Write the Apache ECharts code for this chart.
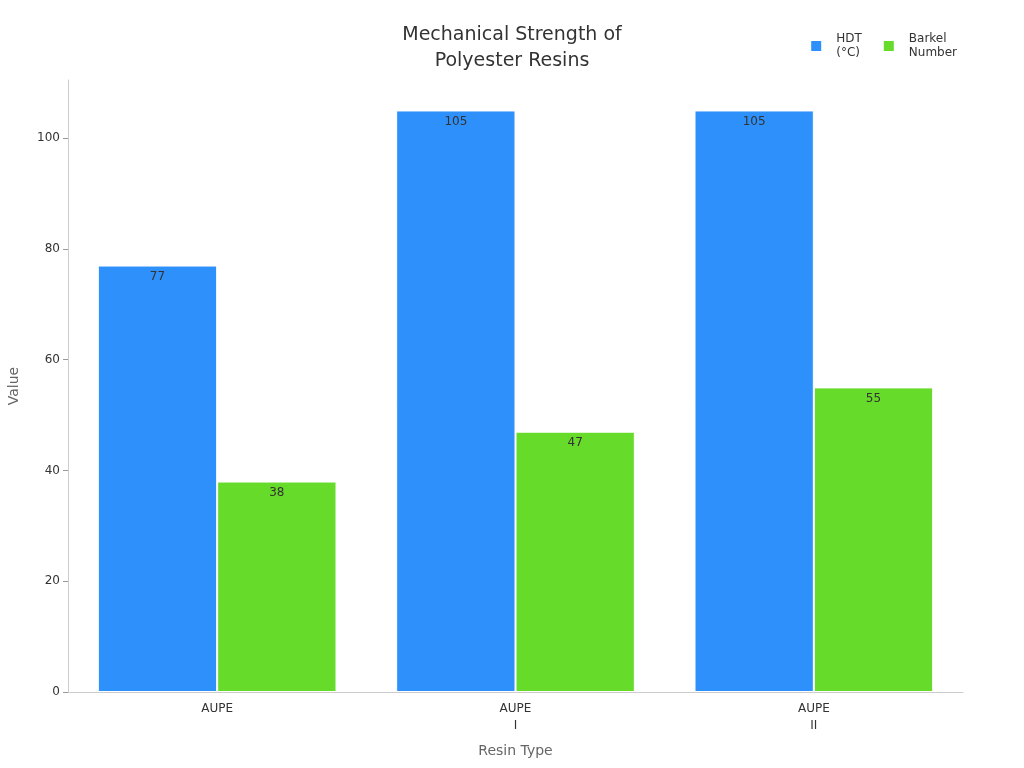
<!DOCTYPE html>
<html><head><meta charset="utf-8">
<script src="https://cdn.jsdelivr.net/npm/echarts@6/dist/echarts.min.js"></script>
<style>html,body{margin:0;padding:0;background:#fff}#c{width:1024px;height:768px}</style>
</head><body><div id="c"></div>
<script>
const categories = ["AUPE", "AUPE\nI", "AUPE\nII"];
const hdt = [77, 105, 105];
const barkel = [38, 47, 55];
const seriesNames = ["HDT\n(°C)", "Barkel\nNumber"];
const yTicks = {min: 0, max: 110.5, interval: 20};

const chart = echarts.init(document.getElementById('c'));
const labelCfg = {show: true, position: 'insideTop', color: '#333', fontSize: 12, distance: 5, fontFamily: 'DejaVu Sans'};
chart.setOption({
  animation: false,
  textStyle: {fontFamily: 'DejaVu Sans'},
  title: {
    text: "Mechanical Strength of\nPolyester Resins",
    left: 'center', top: 17,
    textStyle: {fontSize: 19, fontWeight: 'normal', color: '#333', lineHeight: 26, fontFamily: 'DejaVu Sans'}
  },
  legend: {
    right: 62, top: 27, itemWidth: 12, itemHeight: 12, itemGap: 20, icon: 'rect',
    textStyle: {fontSize: 12, color: '#333', lineHeight: 14, padding: [0, 0, 0, 9]}
  },
  grid: {left: 68, right: 61, top: 80, bottom: 76, outerBoundsMode: 'none', containLabel: false},
  xAxis: {
    type: 'category', data: categories,
    name: 'Resin Type', nameLocation: 'middle', nameGap: 52,
    nameTextStyle: {fontSize: 14, color: '#666'},
    axisLine: {lineStyle: {color: '#ccc'}},
    axisTick: {alignWithLabel: true, lineStyle: {color: '#999'}},
    axisLabel: {color: '#333', fontSize: 12, lineHeight: 17}
  },
  yAxis: {
    type: 'value', min: yTicks.min, max: yTicks.max, interval: yTicks.interval,
    name: 'Value', nameLocation: 'middle', nameGap: 47,
    nameTextStyle: {fontSize: 14, color: '#666'},
    axisLine: {show: true, lineStyle: {color: '#ccc'}},
    axisTick: {show: true, lineStyle: {color: '#999'}},
    splitLine: {show: false},
    axisLabel: {color: '#333', fontSize: 12, showMaxLabel: false}
  },
  series: [
    {name: seriesNames[0], type: 'bar', data: hdt, barGap: '0%', barCategoryGap: '20%',
     itemStyle: {color: '#2e90fa', borderColor: '#fff', borderWidth: 1}, label: labelCfg},
    {name: seriesNames[1], type: 'bar', data: barkel,
     itemStyle: {color: '#66db29', borderColor: '#fff', borderWidth: 1}, label: labelCfg}
  ]
});
</script></body></html>
